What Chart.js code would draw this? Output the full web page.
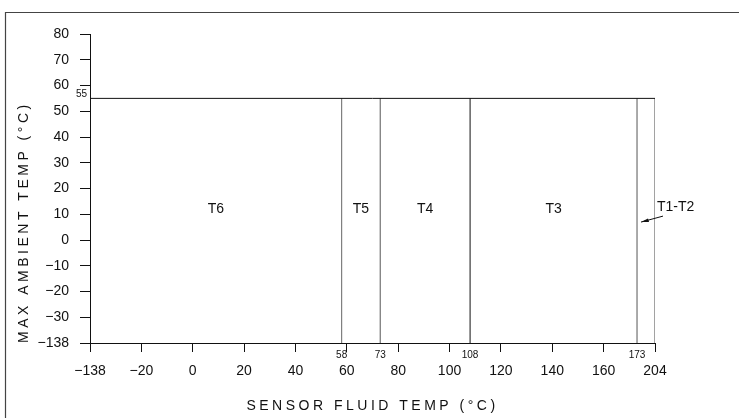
<!DOCTYPE html>
<html><head><meta charset="utf-8">
<script src="https://cdn.jsdelivr.net/npm/chart.js@4/dist/chart.umd.min.js"></script>
<style>html,body{margin:0;padding:0;background:#fff}</style>
</head><body>
<canvas id="c" width="739" height="418"></canvas>
<script>
// ---- data ----
const zoneBounds = [58, 73, 108, 173];
const zoneBoundLabels = ['58', '73', '108', '173'];
const zoneNames = ['T6', 'T5', 'T4', 'T3', 'T1-T2'];
const maxAmbientTemp = 55;
const maxAmbientLabel = '55';
const xTickValues = [-40, -20, 0, 20, 40, 60, 80, 100, 120, 140, 160, 180];
const xTickLabels = ['\u2212138', '\u221220', '0', '20', '40', '60', '80', '100', '120', '140', '160', '204'];
const yTickValues = [-40, -30, -20, -10, 0, 10, 20, 30, 40, 50, 60, 70, 80];
const yTickLabels = ['\u2212138', '\u221230', '\u221220', '\u221210', '0', '10', '20', '30', '40', '50', '60', '70', '80'];
const xTitle = 'SENSOR FLUID TEMP (\u00b0C)';
const yTitle = 'MAX AMBIENT TEMP (\u00b0C)';

const xMin = xTickValues[0], xMax = xTickValues[xTickValues.length - 1];
const yMin = yTickValues[0], yMax = yTickValues[yTickValues.length - 1];
const zoneLabelAmbient = 12;

const INK = '#111';
const FONT = '"Liberation Sans", Arial, sans-serif';

const boundColors = ['#666', '#555', '#111', '#555'];
const datasets = [
  { data: [{x: xMin, y: maxAmbientTemp}, {x: xMax, y: maxAmbientTemp}], borderColor: '#111' },
  { data: [{x: xMax, y: yMin}, {x: xMax, y: maxAmbientTemp}], borderColor: '#444' }
];
zoneBounds.forEach((b, i) => {
  datasets.push({ data: [{x: b, y: yMin}, {x: b, y: maxAmbientTemp}], borderColor: boundColors[i] });
});
datasets.forEach(d => { d.borderWidth = 1; d.pointRadius = 0; d.showLine = true; d.fill = false; });

const textPlugin = {
  id: 'cadText',
  beforeDraw(chart) { chart.ctx.letterSpacing = '3.5px'; },
  afterDatasetsDraw(chart) { chart.ctx.letterSpacing = '0px'; },
  afterDraw(chart) {
    const ctx = chart.ctx, xs = chart.scales.x, ys = chart.scales.y;
    ctx.save();
    ctx.letterSpacing = '0px';
    ctx.fillStyle = INK;
    ctx.strokeStyle = INK;
    // zone labels
    const edges = [xMin].concat(zoneBounds);
    const ly = ys.getPixelForValue(zoneLabelAmbient);
    ctx.font = '14px ' + FONT;
    ctx.textBaseline = 'middle';
    ctx.textAlign = 'center';
    for (let i = 0; i < edges.length; i++) {
      const a = xs.getPixelForValue(edges[i]);
      const b = i + 1 < edges.length ? xs.getPixelForValue(edges[i + 1]) : xs.getPixelForValue(xMax);
      if (i < edges.length - 1) ctx.fillText(zoneNames[i], (a + b) / 2, ly);
    }
    // T1-T2 label outside box with arrow
    const xr = xs.getPixelForValue(xMax);
    const x173 = xs.getPixelForValue(zoneBounds[zoneBounds.length - 1]);
    ctx.textAlign = 'left';
    ctx.fillText(zoneNames[zoneNames.length - 1], xr + 2, ly - 2);
    ctx.lineWidth = 1;
    ctx.beginPath();
    ctx.moveTo(xr + 8, ly + 7);
    ctx.lineTo(x173 + 4, ly + 13);
    ctx.stroke();
    ctx.beginPath();
    ctx.moveTo(x173 + 4, ly + 13);
    ctx.lineTo(x173 + 11, ly + 9.5);
    ctx.lineTo(x173 + 12, ly + 13);
    ctx.closePath();
    ctx.fill();
    // boundary value labels under the axis
    ctx.font = '10px ' + FONT;
    ctx.textAlign = 'center';
    const ay = ys.getPixelForValue(yMin);
    zoneBounds.forEach((b, i) => {
      ctx.fillText(zoneBoundLabels[i], xs.getPixelForValue(b), ay + 12);
    });
    // 55 label
    ctx.textAlign = 'right';
    ctx.fillText(maxAmbientLabel, xs.getPixelForValue(xMin) - 3, ys.getPixelForValue(maxAmbientTemp) - 4);
    // drawing frame
    ctx.strokeStyle = '#444';
    ctx.lineWidth = 1.2;
    ctx.beginPath();
    ctx.moveTo(5.5, 418);
    ctx.lineTo(5.5, 12.5);
    ctx.lineTo(739, 12.5);
    ctx.stroke();
    ctx.restore();
  }
};

new Chart(document.getElementById('c'), {
  type: 'scatter',
  data: { datasets },
  plugins: [textPlugin],
  options: {
    responsive: false,
    animation: false,
    devicePixelRatio: 1,
    layout: { padding: { top: 34, right: 84, left: 0, bottom: 0 } },
    plugins: { legend: { display: false }, tooltip: { enabled: false } },
    scales: {
      x: {
        type: 'linear', min: xMin, max: xMax,
        afterBuildTicks: s => { s.ticks = xTickValues.map(v => ({ value: v })); },
        afterFit: s => { s.height = 75; },
        grid: { drawOnChartArea: false, drawTicks: true, tickLength: 9, color: INK, lineWidth: 1 },
        border: { display: true, color: INK, width: 1 },
        ticks: { z: 1, padding: 11, color: INK, font: { family: FONT, size: 14 }, maxRotation: 0, autoSkip: false,
          callback: v => xTickLabels[xTickValues.indexOf(v)] },
        title: { display: true, text: xTitle, color: INK, font: { family: FONT, size: 14 }, padding: { top: 0, bottom: 3 } }
      },
      y: {
        type: 'linear', min: yMin, max: yMax,
        afterBuildTicks: s => { s.ticks = yTickValues.map(v => ({ value: v })); },
        afterFit: s => { s.width = 90; },
        grid: { drawOnChartArea: false, drawTicks: true, tickLength: 10, color: INK, lineWidth: 1 },
        border: { display: true, color: INK, width: 1 },
        ticks: { z: 1, padding: 11, color: INK, font: { family: FONT, size: 14 }, autoSkip: false,
          callback: v => yTickLabels[yTickValues.indexOf(v)] },
        title: { display: true, text: yTitle, align: 'start', color: INK, font: { family: FONT, size: 14 }, padding: { top: 16, bottom: 0 } }
      }
    }
  }
});
</script>
</body></html>
